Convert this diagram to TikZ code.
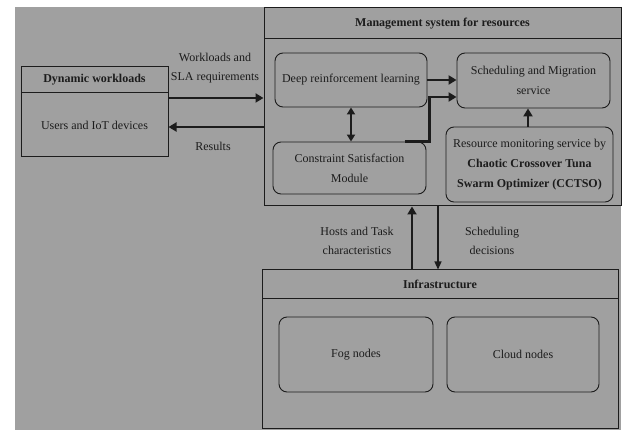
\documentclass[tikz,border=0pt]{standalone}
\usepackage{fontspec}
\setmainfont{Liberation Serif}
\usetikzlibrary{arrows.meta}
\definecolor{bggray}{HTML}{A0A0A0}
\definecolor{ink}{HTML}{1C1C1C}
\tikzset{
  panel/.style={rectangle, draw=ink, line width=1pt, inner sep=0pt, text=ink},
  head/.style={panel, font=\fontsize{12}{19}\selectfont\bfseries},
  body/.style={panel, font=\fontsize{12}{19}\selectfont},
  unit/.style={rectangle, draw=ink, line width=0.9pt, rounded corners=8pt, align=center, inner sep=1pt, text=ink, font=\fontsize{12}{20}\selectfont},
  lbl/.style={align=center, inner sep=0pt, text=ink, font=\fontsize{12}{19}\selectfont},
  arr/.style={-{Triangle[length=8pt,width=9pt]}, line width=2.6pt, draw=ink},
  darr/.style={{Triangle[length=7pt,width=8pt]}-{Triangle[length=7pt,width=8pt]}, line width=1.8pt, draw=ink},
  thinarr/.style={-{Triangle[length=8pt,width=7pt]}, line width=1.2pt, draw=ink}
}

\begin{document}
\begin{tikzpicture}[x=1pt,y=-1pt]
\useasboundingbox (0,0) rectangle (624,430);
\fill[bggray] (15,7) rectangle (621,430);

% dynamic workloads
\node[head, minimum width=147pt, minimum height=26pt] (dynhead) at (94.5,80) {Dynamic workloads};
\node[body, minimum width=147pt, minimum height=64pt] (dynbody) at (94.5,125) {Users and IoT devices};

% management system
\node[head, minimum width=357pt, minimum height=31pt] (mgmthead) at (442.5,23.5) {Management system for resources};
\node[body, minimum width=357pt, minimum height=167pt] (mgmtbody) at (442.5,122.5) {};
\node[unit, minimum width=152pt, minimum height=54pt] (drl) at (351,80) {Deep reinforcement learning};
\node[unit, minimum width=153pt, minimum height=52pt] (csm) at (349.5,168) {Constraint Satisfaction\\Module};
\node[unit, minimum width=153pt, minimum height=55pt] (sms) at (533.5,80.5) {Scheduling and Migration\\service};
\node[unit, minimum width=167pt, minimum height=75pt] (rms) at (529.5,164.5) {Resource monitoring service by\\\textbf{Chaotic Crossover Tuna}\\\textbf{Swarm Optimizer (CCTSO)}};

% infrastructure
\node[head, minimum width=356pt, minimum height=29pt] (infrahead) at (440,284.5) {Infrastructure};
\node[body, minimum width=356pt, minimum height=129pt] (infrabody) at (440,363.5) {};
\node[unit, minimum width=154pt, minimum height=75pt] (fog) at (356,354.5) {Fog nodes};
\node[unit, minimum width=152pt, minimum height=75pt] (cloud) at (523,354.5) {Cloud nodes};

% connectors
\draw[arr] ([yshift=27pt]dynbody.east) -- ([yshift=27pt]dynbody.east -| mgmtbody.west);
\draw[arr] ([yshift=-4.5pt]mgmtbody.west) -- ([yshift=-4.5pt]mgmtbody.west -| dynbody.east);
\draw[arr] (drl.east) -- (drl.east -| sms.west);
\draw[arr] ([xshift=55pt]csm.north) -- ++(25pt,0) |- ([yshift=-16.5pt]sms.west);
\draw[arr] ([xshift=-1.5pt]rms.north) -- ([xshift=-1.5pt]rms.north |- sms.south);
\draw[darr] (drl.south) -- (drl.south |- csm.north);
\draw[arr] ([xshift=-28pt]infrahead.north) -- ([xshift=-28pt]infrahead.north |- mgmtbody.south);
\draw[thinarr] ([xshift=-4.5pt]mgmtbody.south) -- ([xshift=-4.5pt]mgmtbody.south |- infrahead.north);

\node[lbl] (wlabel) at (215,68) {Workloads and\\SLA requirements};
\node[lbl] (rlabel) at (213,146) {Results};
\node[lbl] (hlabel) at (357,241) {Hosts and Task\\characteristics};
\node[lbl] (slabel) at (492,241) {Scheduling\\decisions};
\end{tikzpicture}
\end{document}
